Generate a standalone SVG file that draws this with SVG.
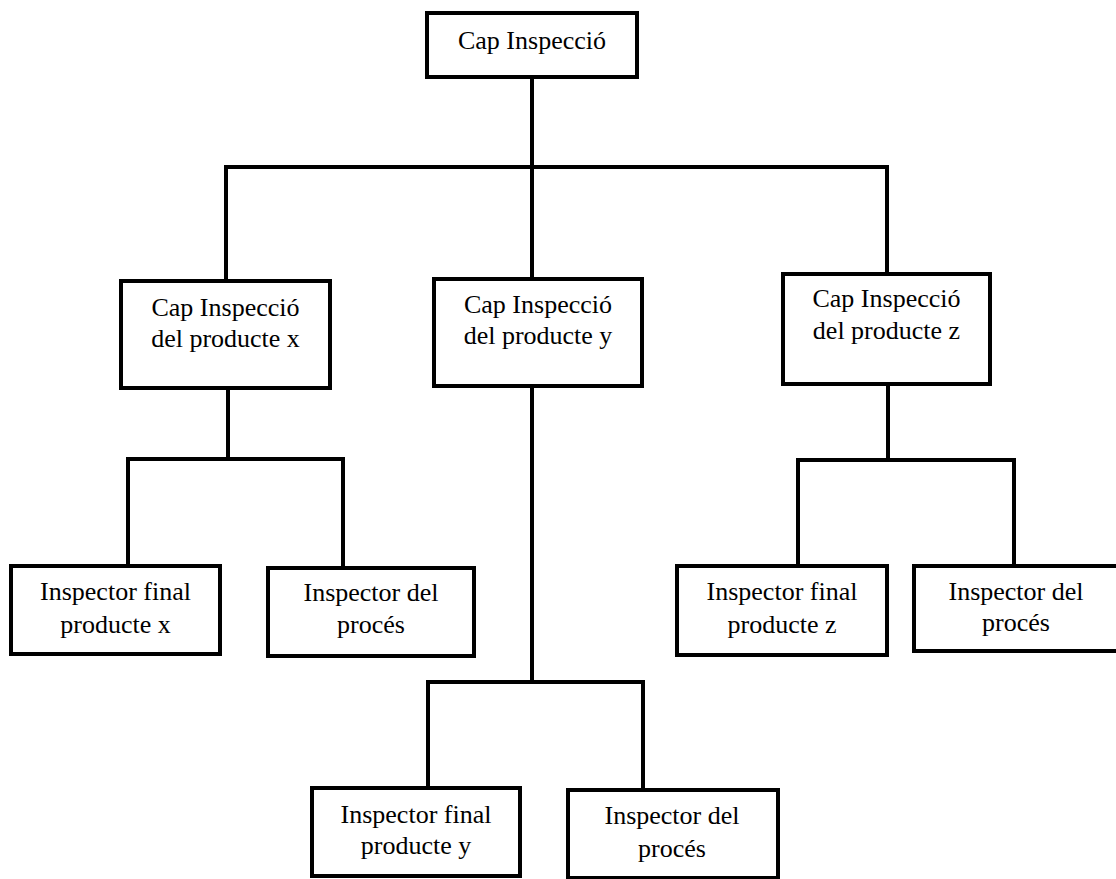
<svg xmlns="http://www.w3.org/2000/svg" width="1116" height="879" viewBox="0 0 1116 879">
  <style>
    .box { fill: #ffffff; stroke: #000000; stroke-width: 4; }
    .wire { fill: none; stroke: #000000; stroke-width: 4; stroke-linecap: square; }
  </style>
  <rect width="1116" height="879" fill="#ffffff"/>

  <!-- tree lines -->
  <g id="connectors">
    <path class="wire" d="M532,79 V167"/>
    <path class="wire" d="M226,167 H887"/>
    <path class="wire" d="M226,167 V279"/>
    <path class="wire" d="M532,167 V277"/>
    <path class="wire" d="M887,167 V272"/>

    <path class="wire" d="M228,390 V459"/>
    <path class="wire" d="M128,459 H343"/>
    <path class="wire" d="M128,459 V564"/>
    <path class="wire" d="M343,459 V566"/>

    <path class="wire" d="M532,388 V682"/>
    <path class="wire" d="M428,682 H643"/>
    <path class="wire" d="M428,682 V786"/>
    <path class="wire" d="M643,682 V788"/>

    <path class="wire" d="M888,386 V460"/>
    <path class="wire" d="M798,460 H1014"/>
    <path class="wire" d="M798,460 V564"/>
    <path class="wire" d="M1014,460 V564"/>
  </g>

  <!-- all labels share one serif face, set on this wrapper -->
  <g font-family="Liberation Serif, Times New Roman, serif" font-size="26" fill="#000000" text-anchor="middle">
    <g id="cap-inspeccio">
      <rect class="box" x="427" y="13" width="210" height="64"/>
      <text x="532" y="49">Cap Inspecció</text>
    </g>

    <g id="cap-producte-x">
      <rect class="box" x="121" y="281" width="209" height="107"/>
      <text x="225.5" y="316">Cap Inspecció</text>
      <text x="225.5" y="347">del producte x</text>
    </g>

    <g id="cap-producte-y">
      <rect class="box" x="434" y="279" width="208" height="107"/>
      <text x="538" y="313">Cap Inspecció</text>
      <text x="538" y="344">del producte y</text>
    </g>

    <g id="cap-producte-z">
      <rect class="box" x="783" y="274" width="207" height="110"/>
      <text x="886.5" y="307">Cap Inspecció</text>
      <text x="886.5" y="339">del producte z</text>
    </g>

    <g id="inspector-final-x">
      <rect class="box" x="11" y="566" width="209" height="88"/>
      <text x="115.5" y="600">Inspector final</text>
      <text x="115.5" y="633">producte x</text>
    </g>

    <g id="inspector-proces-x">
      <rect class="box" x="268" y="568" width="206" height="88"/>
      <text x="371" y="601">Inspector del</text>
      <text x="371" y="633">procés</text>
    </g>

    <g id="inspector-final-y">
      <rect class="box" x="312" y="788" width="208" height="88"/>
      <text x="416" y="823">Inspector final</text>
      <text x="416" y="854">producte y</text>
    </g>

    <g id="inspector-proces-y">
      <rect class="box" x="568" y="790" width="210" height="88"/>
      <text x="672" y="824">Inspector del</text>
      <text x="672" y="857">procés</text>
    </g>

    <g id="inspector-final-z">
      <rect class="box" x="677" y="566" width="210" height="89"/>
      <text x="782" y="600">Inspector final</text>
      <text x="782" y="633">producte z</text>
    </g>

    <g id="inspector-proces-z">
      <rect class="box" x="914" y="566" width="204" height="85"/>
      <text x="1016" y="600">Inspector del</text>
      <text x="1016" y="631">procés</text>
    </g>
  </g>
</svg>
